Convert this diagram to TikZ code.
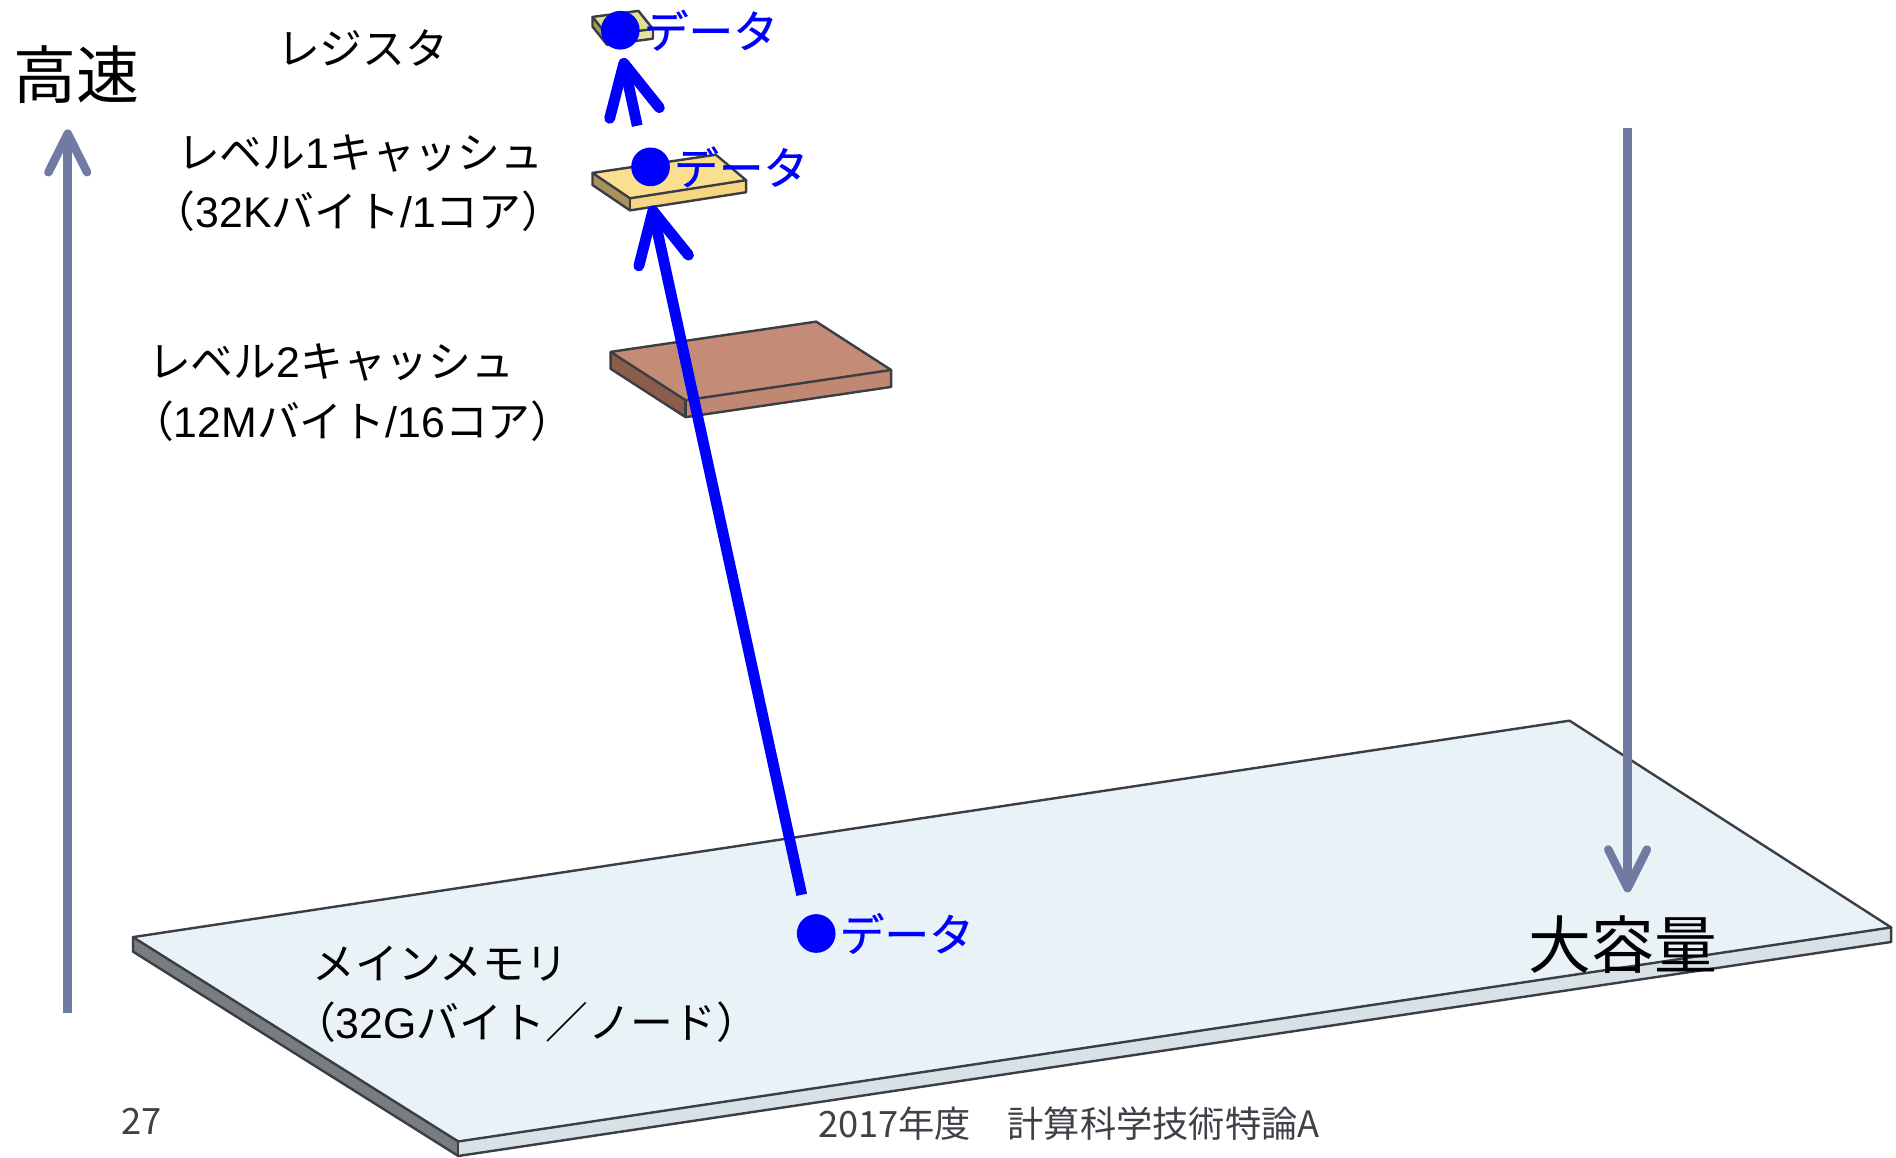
\documentclass[tikz,border=0pt]{standalone}
\usepackage{fontspec}
\setmainfont{Noto Sans CJK JP}
\newfontfamily\latin{Liberation Sans}
\newfontfamily\datafont[FakeBold=0.6]{Noto Sans CJK JP}
\usetikzlibrary{arrows.meta}
\definecolor{arrowgrey}{RGB}{113,122,163}
\definecolor{datablue}{RGB}{0,0,255}
\definecolor{slabline}{RGB}{60,62,70}
\definecolor{memtop}{RGB}{233,243,247}
\definecolor{memleft}{RGB}{120,125,130}
\definecolor{memfront}{RGB}{216,226,230}
\definecolor{ltwotop}{RGB}{196,139,118}
\definecolor{ltwoleft}{RGB}{140,92,77}
\definecolor{ltwofront}{RGB}{192,135,114}
\definecolor{lonetop}{RGB}{250,224,142}
\definecolor{loneleft}{RGB}{168,145,90}
\definecolor{lonefront}{RGB}{246,214,128}
\definecolor{regtop}{RGB}{222,224,142}
\definecolor{regleft}{RGB}{160,160,96}
\definecolor{regfront}{RGB}{228,230,160}
\definecolor{footgrey}{RGB}{64,64,72}
\newcommand\mkslab[8]{%
  \fill[#7] (#1) -- (#4) -- ([shift={(0,#5)}]#4) -- ([shift={(0,#5)}]#1) -- cycle;
  \fill[#8] (#4) -- (#3) -- ([shift={(0,#5)}]#3) -- ([shift={(0,#5)}]#4) -- cycle;
  \filldraw[#6, draw=slabline, slabedge] (#1) -- (#2) -- (#3) -- (#4) -- cycle;
  \draw[slabedge] (#1) -- ([shift={(0,#5)}]#1) -- ([shift={(0,#5)}]#4) -- ([shift={(0,#5)}]#3) -- (#3);
  \draw[slabedge] (#4) -- ([shift={(0,#5)}]#4);
}
\begin{document}
\begin{tikzpicture}[x=0.5pt,y=-0.5pt,
  slabedge/.style={draw=slabline, line width=1pt, line join=round},
  lbl/.style={inner sep=0pt, font=\fontsize{17.7pt}{20pt}\selectfont},
  biglbl/.style={inner sep=0pt, font=\fontsize{26pt}{30pt}\selectfont},
  datalbl/.style={inner sep=0pt, anchor=west, text=datablue, font=\datafont\fontsize{18.5pt}{20pt}\selectfont},
  datadot/.style={circle, fill=datablue, minimum size=16pt, inner sep=0pt},
  greyarrow/.style={draw=arrowgrey, line width=3.5pt, -{Straight Barb[round, length=16pt, width=16pt]}},
  bluearrow/.style={draw=datablue, line width=4.5pt, -{Straight Barb[round, length=21pt, width=21pt]}},
  foot/.style={inner sep=0pt, text=footgrey, font=\fontsize{15pt}{16pt}\selectfont}]
\useasboundingbox (0,0) rectangle (1568,957);

% main memory slab
\coordinate (mA) at (110,775);
\coordinate (mB) at (1298,596);
\coordinate (mC) at (1564,767);
\coordinate (mD) at (379,944);
\mkslab{mA}{mB}{mC}{mD}{12}{memtop}{memleft}{memfront}

% level 2 slab
\coordinate (tA) at (505,291);
\coordinate (tB) at (675,266);
\coordinate (tC) at (737,306);
\coordinate (tD) at (567,331);
\mkslab{tA}{tB}{tC}{tD}{14}{ltwotop}{ltwoleft}{ltwofront}

% level 1 slab
\coordinate (oA) at (490,143);
\coordinate (oB) at (592,128);
\coordinate (oC) at (617,149);
\coordinate (oD) at (521,164);
\mkslab{oA}{oB}{oC}{oD}{10}{lonetop}{loneleft}{lonefront}

% register slab
\coordinate (rA) at (490,14);
\coordinate (rB) at (528,9);
\coordinate (rC) at (540,24);
\coordinate (rD) at (502,29);
\mkslab{rA}{rB}{rC}{rD}{8}{regtop}{regleft}{regfront}

% grey arrows
\coordinate (fastbase) at (56,838);
\coordinate (fasttip) at (56,107);
\draw[greyarrow] (fastbase) -- (fasttip);
\coordinate (bigtop) at (1346,106);
\coordinate (bigtip) at (1346,738);
\draw[greyarrow] (bigtop) -- (bigtip);

\node[biglbl] (fast) at (63,62) {高速};
\node[biglbl] (big) at (1342,781) {大容量};

% labels
\node[lbl] (reglbl) at (300,40) {レジスタ};
\node[lbl, anchor=west] (loneA) at (146,127) {レベル{\latin 1}キャッシュ};
\node[lbl, anchor=west] (loneB) at (126,175) {（{\latin 32K}バイト{\latin /1}コア）};
\node[lbl, anchor=west] (ltwoA) at (122,300) {レベル{\latin 2}キャッシュ};
\node[lbl, anchor=west] (ltwoB) at (108,348) {（{\latin 12M}バイト{\latin /16}コア）};
\node[lbl, anchor=west] (memA) at (258,797) {メインメモリ};
\node[lbl, anchor=west] (memB) at (242,845) {（{\latin 32G}バイト／ノード）};

% data dots
\node[datadot] (regdot) at (513,25) {};
\node[datadot] (lonedot) at (538,138) {};
\node[datadot] (memdot) at (675,772) {};
\node[datalbl] (regdata) at (532,25) {データ};
\node[datalbl] (lonedata) at (557,138) {データ};
\node[datalbl] (memdata) at (694,772) {データ};

% blue arrows
\coordinate (memstart) at (663,740);
\coordinate (lonetip) at (539,170);
\coordinate (lonestart) at (527,104);
\coordinate (regtip) at (515,48);
\draw[bluearrow] (memstart) -- (lonetip);
\draw[bluearrow] (lonestart) -- (regtip);

% footer
\node[foot] (pagenum) at (117,927) {27};
\node[foot] (course) at (884,929) {2017年度　計算科学技術特論A};
\end{tikzpicture}
\end{document}
